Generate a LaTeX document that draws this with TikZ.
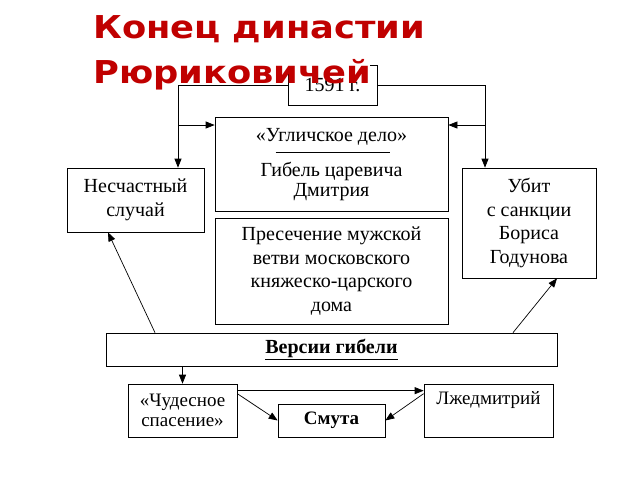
\documentclass[tikz,border=0pt]{standalone}
\usepackage{fontspec}
\setmainfont{Liberation Serif}
\newfontfamily\headfont[FakeStretch=1.12]{DejaVu Sans}
\usetikzlibrary{arrows.meta,shadows}
\definecolor{headred}{RGB}{192,0,0}

\begin{document}
\begin{tikzpicture}[x=1pt,y=-1pt,
        box/.style={draw=black, line width=0.7pt, fill=white, inner sep=0pt, align=center,
            general shadow={fill=black, shadow xshift=0.9pt, shadow yshift=-0.9pt},
            font=\fontsize{20}{23.5}\selectfont},
        smallbox/.style={box, font=\fontsize{19}{20}\selectfont},
        txt/.style={inner sep=0pt, align=center, font=\fontsize{20}{20}\selectfont},
        arr/.style={-{Triangle[length=9pt,width=7pt]}, line width=0.7pt},
        head/.style={anchor=base west, inner sep=0pt, text=headred,
            font=\headfont\bfseries\fontsize{31.5}{40}\selectfont}]
        \useasboundingbox (0,0) rectangle (640,480);

        \node[box, minimum width=89pt, minimum height=40pt] (y1591) at (332.5,85) {1591 г.};
        \node[box, minimum width=233pt, minimum height=94pt] (ugl) at (331.5,164) {};
        \node[txt] (ugltitle) at ([yshift=-20pt]ugl.north) {«Угличское дело»};
        \draw[line width=0.6pt] ([xshift=-56pt,yshift=-36pt]ugl.north) -- ([xshift=58pt,yshift=-36pt]ugl.north);
        \node[txt] (ugltext) at ([yshift=30pt]ugl.south) {Гибель царевича\\Дмитрия};
        \node[box, minimum width=137pt, minimum height=64pt] (nes) at (135.5,200) {Несчастный\\случай};
        \node[box, minimum width=134pt, minimum height=110pt] (ubit) at (529,223) {Убит\\с санкции\\Бориса\\Годунова};
        \node[box, minimum width=233pt, minimum height=106pt] (pres) at (331.5,271) {Пресечение мужской\\ветви московского\\княжеско-царского\\дома};
        \node[box, minimum width=451pt, minimum height=33pt] (ver) at (331.5,349.5) {\textbf{\underline{Версии гибели}}};
        \node[smallbox, minimum width=109pt, minimum height=53pt] (chud) at (182.5,410.5) {«Чудесное\\спасение»};
        \node[smallbox, minimum width=107pt, minimum height=33pt] (smuta) at (331.5,420.5) {\textbf{Смута}};
        \node[smallbox, minimum width=129pt, minimum height=53pt,
            label={[txt, font=\fontsize{19}{20}\selectfont, anchor=center, yshift=-16pt]north:Лжедмитрий}] (lzhe) at (488.5,410.5) {};

        \coordinate (ltop) at (178,85);
        \coordinate (lfork) at (178,125);
        \coordinate (rtop) at (485,85);
        \coordinate (rfork) at (485,125);
        \draw[arr] (y1591.west) -- (ltop) -- (ltop |- nes.north);
        \draw[arr] (lfork) -- (lfork -| ugl.west);
        \draw[arr] (y1591.east) -- (rtop) -- (rtop |- ubit.north);
        \draw[arr] (rfork) -- (rfork -| ugl.east);

        \draw[arr] ([xshift=-176.5pt]ver.north) -- ([xshift=-27.5pt]nes.south);
        \draw[arr] ([xshift=181.5pt]ver.north) -- ([xshift=28pt]ubit.south);
        \draw[arr] (ver.south -| chud.north) -- (chud.north);
        \draw[arr] ([yshift=-7pt]chud.north east) -- ([yshift=-7pt]lzhe.north west);
        \draw[arr] ([yshift=-10pt]chud.north east) -- (smuta.west);
        \draw[arr] ([yshift=-10pt]lzhe.north west) -- (smuta.east);

        \fill[white] (88,55) rectangle (370,67);
        \node[head] (title1) at (93,38) {Конец династии};
        \node[head] (title2) at (93,83) {Рюриковичей};
\end{tikzpicture}
\end{document}
